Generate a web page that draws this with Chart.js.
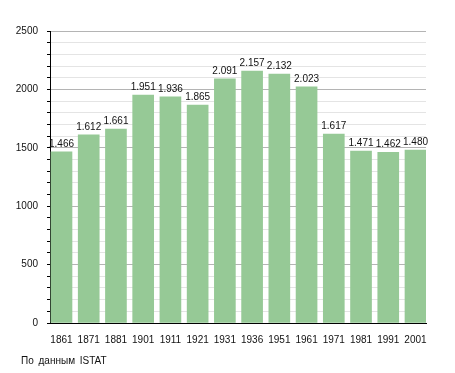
<!DOCTYPE html>
<html>
<head>
<meta charset="utf-8">
<script src="https://cdn.jsdelivr.net/npm/chart.js@4/dist/chart.umd.min.js"></script>
<style>
  body { margin: 0; background: #fff; }
  #wrap { position: relative; width: 455px; height: 373px; }
  #note { position: absolute; left: 21px; top: 355px; font: 10px "Liberation Sans", Arial, sans-serif; color: #111; word-spacing: 2px; }
</style>
</head>
<body>
<div id="wrap">
  <canvas id="chart" width="455" height="373"></canvas>
  <div id="note">По данным ISTAT</div>
</div>
<script>
const years = ['1861', '1871', '1881', '1901', '1911', '1921', '1931', '1936', '1951', '1961', '1971', '1981', '1991', '2001'];
const population = [1466, 1612, 1661, 1951, 1936, 1865, 2091, 2157, 2132, 2023, 1617, 1471, 1462, 1480];
const yTicks = [0, 500, 1000, 1500, 2000, 2500];

const font = { family: '"Liberation Sans", Arial, sans-serif', size: 10 };

function fmt(v) {
  return Math.floor(v / 1000) + '.' + String(v % 1000).padStart(3, '0');
}

// numbers above the bars
const valueLabels = {
  id: 'valueLabels',
  afterDatasetsDraw(chart) {
    const ctx = chart.ctx;
    ctx.save();
    ctx.font = '10px "Liberation Sans", Arial, sans-serif';
    ctx.fillStyle = '#111';
    ctx.textAlign = 'center';
    ctx.textBaseline = 'alphabetic';
    chart.getDatasetMeta(0).data.forEach((bar, i) => {
      ctx.fillText(fmt(population[i]), bar.x, bar.y - 5);
    });
    ctx.restore();
  }
};

new Chart(document.getElementById('chart'), {
  type: 'bar',
  data: {
    datasets: [{
      data: years.map((y, i) => ({ x: i, y: population[i] })),
      backgroundColor: 'rgb(150,201,150)',
      barThickness: 21
    }]
  },
  options: {
    responsive: false,
    animation: false,
    layout: { padding: { left: 0, right: 29, top: 31, bottom: 0 } },
    plugins: { legend: { display: false }, tooltip: { enabled: false } },
    scales: {
      x: {
        type: 'linear',
        offset: false,
        min: -0.422,
        max: 13.386,
        afterBuildTicks: s => { s.ticks = years.map((_, i) => ({ value: i })); },
        afterFit: s => { s.height = 50; },
        grid: { display: false, offset: false },
        border: { color: '#000', width: 1 },
        ticks: {
          autoSkip: false,
          maxRotation: 0,
          padding: 3,
          color: '#111',
          font: font,
          callback: v => years[v]
        }
      },
      y: {
        min: 0,
        max: 2500,
        afterFit: s => { s.width = 50; },
        ticks: {
          stepSize: 100,
          autoSkip: false,
          padding: 9,
          color: '#111',
          font: font,
          callback: v => yTicks.includes(v) ? v : ''
        },
        grid: {
          color: c => (c.tick && c.tick.value % 500 === 0) ? '#b4b4b4' : '#e4e4e4',
          tickColor: '#000',
          tickLength: 3
        },
        border: { color: '#000', width: 1 }
      }
    }
  },
  plugins: [valueLabels]
});
</script>
</body>
</html>
